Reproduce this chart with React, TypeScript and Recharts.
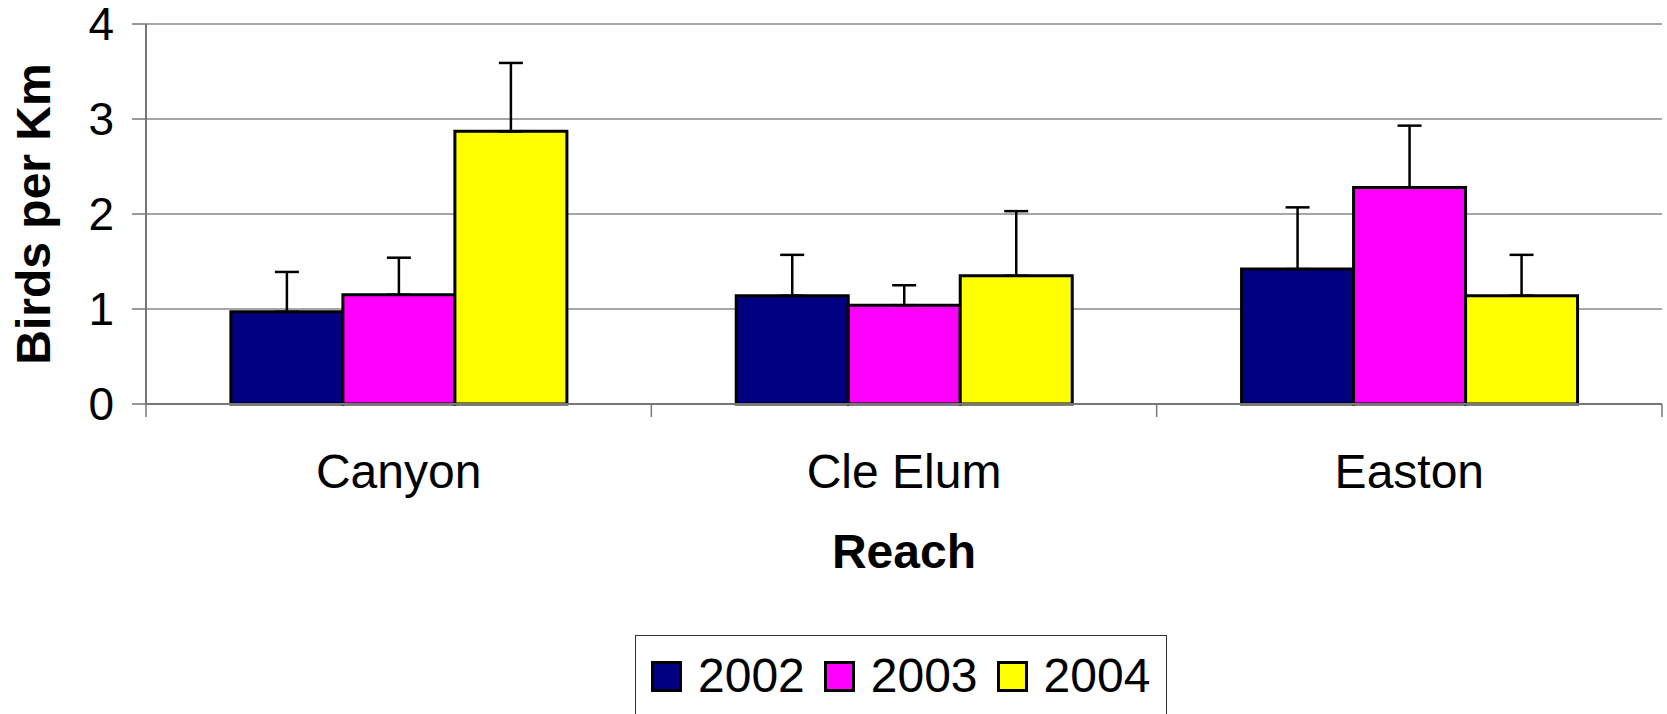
import React from "react";
import {
  BarChart,
  Bar,
  XAxis,
  YAxis,
  CartesianGrid,
  ErrorBar,
  Legend,
  Label,
} from "recharts";

const reaches = ["Canyon", "Cle Elum", "Easton"];
const years = ["2002", "2003", "2004"];
const birds2002 = [0.97, 1.14, 1.42];
const birds2003 = [1.15, 1.04, 2.28];
const birds2004 = [2.87, 1.35, 1.14];
const err2002 = [0.42, 0.43, 0.65];
const err2003 = [0.39, 0.21, 0.65];
const err2004 = [0.72, 0.68, 0.43];
const yTicks = [0, 1, 2, 3, 4];

const colors = ["#000080", "#ff00ff", "#ffff00"];
const values = [birds2002, birds2003, birds2004];
const errors = [err2002, err2003, err2004];

const data = reaches.map((reach, i) => {
  const row: Record<string, any> = { reach };
  years.forEach((yr, s) => {
    row["y" + yr] = values[s][i];
    row["e" + yr] = [0, errors[s][i]];
  });
  return row;
});

const W = 1667;
const H = 714;
const Y_AXIS_W = 146;
const RIGHT = 5;
const PLOT_W = W - Y_AXIS_W - RIGHT;
const BAND = PLOT_W / reaches.length;
const X_TICK_SIZE = 13;
const X_TICK_MARGIN = 37;
const FS = 48;
const FONT = "'Liberation Sans', Arial, sans-serif";
const AXIS_GRAY = "#777";

function ReachTick(props: any) {
  const { x, y, payload, index } = props;
  const axisY = y - X_TICK_MARGIN - X_TICK_SIZE;
  return (
    <g>
      <line
        x1={x - BAND / 2}
        x2={x - BAND / 2}
        y1={axisY}
        y2={axisY + X_TICK_SIZE}
        stroke={AXIS_GRAY}
        strokeWidth={1.5}
      />
      {index === reaches.length - 1 && (
        <line
          x1={x + BAND / 2}
          x2={x + BAND / 2}
          y1={axisY}
          y2={axisY + X_TICK_SIZE}
          stroke={AXIS_GRAY}
          strokeWidth={1.5}
        />
      )}
      <text
        x={x}
        y={y}
        dy="0.71em"
        textAnchor="middle"
        fontSize={FS}
        fontFamily={FONT}
        fill="#000"
      >
        {payload.value}
      </text>
    </g>
  );
}

function YearLegend() {
  return (
    <div
      style={{
        boxSizing: "border-box",
        width: 532,
        height: 100,
        border: "1px solid #333",
        background: "#fff",
        paddingTop: 16,
        paddingLeft: 15,
        fontFamily: FONT,
        fontSize: FS,
        lineHeight: FS + "px",
        color: "#000",
      }}
    >
      <div style={{ display: "flex", alignItems: "center", height: FS }}>
        {years.map((yr, s) => (
          <React.Fragment key={yr}>
            <span
              style={{
                display: "inline-block",
                boxSizing: "border-box",
                width: 31,
                height: 31,
                background: colors[s],
                border: "3px solid #000",
                marginLeft: s === 0 ? 0 : 19,
                marginRight: 16,
              }}
            />
            <span>{yr}</span>
          </React.Fragment>
        ))}
      </div>
    </div>
  );
}

export default function App() {
  return (
    <div
      style={{
        position: "fixed",
        left: 0,
        top: 0,
        width: W,
        height: H,
        overflow: "hidden",
        background: "#fff",
      }}
    >
      <BarChart
        width={W}
        height={H}
        data={data}
        margin={{ top: 24, right: RIGHT, bottom: 130, left: 0 }}
        barCategoryGap="16.8%"
        barGap={0}
        style={{ fontFamily: FONT }}
      >
        <CartesianGrid vertical={false} stroke="#888" strokeWidth={1.5} />
        <XAxis
          dataKey="reach"
          height={180}
          axisLine={{ stroke: AXIS_GRAY, strokeWidth: 2 }}
          tickLine={false}
          tickSize={X_TICK_SIZE}
          tickMargin={X_TICK_MARGIN}
          tick={<ReachTick />}
          interval={0}
        >
          <Label
            value="Reach"
            position="insideTop"
            offset={130}
            style={{ fontSize: FS, fontWeight: "bold", fill: "#000", fontFamily: FONT }}
          />
        </XAxis>
        <YAxis
          width={Y_AXIS_W}
          domain={[0, 4]}
          ticks={yTicks}
          interval={0}
          axisLine={{ stroke: AXIS_GRAY, strokeWidth: 2 }}
          tickLine={{ stroke: AXIS_GRAY, strokeWidth: 1.5 }}
          tickSize={14}
          tickMargin={18}
          tick={{ fontSize: 46, fill: "#000", fontFamily: FONT }}
        >
          <Label
            value="Birds per Km"
            angle={-90}
            position="insideLeft"
            offset={33}
            style={{
              fontSize: FS,
              fontWeight: "bold",
              fill: "#000",
              fontFamily: FONT,
              textAnchor: "middle",
            }}
          />
        </YAxis>
        <YAxis
          yAxisId="frame"
          orientation="right"
          width={0}
          domain={[0, 4]}
          tick={false}
          tickLine={false}
          axisLine={{ stroke: AXIS_GRAY, strokeWidth: 2.5 }}
        />
        <Legend
          layout="horizontal"
          verticalAlign="middle"
          align="center"
          content={<YearLegend />}
          wrapperStyle={{ position: "absolute", left: 635, top: 635, width: 532, height: 100 }}
        />
        {years.map((yr, s) => (
          <Bar
            key={yr}
            dataKey={"y" + yr}
            name={yr}
            fill={colors[s]}
            stroke="#000"
            strokeWidth={3}
            isAnimationActive={false}
          >
            <ErrorBar
              dataKey={"e" + yr}
              direction="y"
              width={12}
              stroke="#000"
              strokeWidth={2.5}
              isAnimationActive={false}
            />
          </Bar>
        ))}
      </BarChart>
    </div>
  );
}
